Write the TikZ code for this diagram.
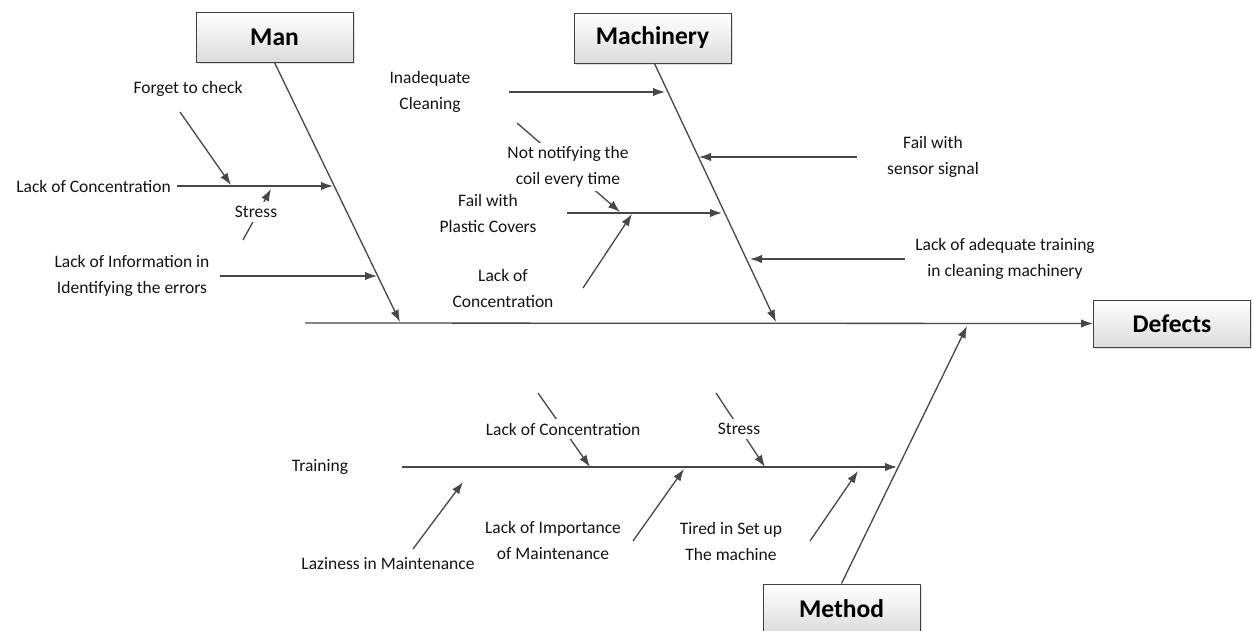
\documentclass[tikz,border=0pt]{standalone}
\usepackage{fontspec}
\setmainfont{Carlito}
\usetikzlibrary{arrows.meta,shadows}
\begin{document}
\begin{tikzpicture}[x=1pt,y=-1pt,
  catbox/.style={draw=black!75, line width=1pt, top color=white, bottom color=black!14,
    minimum width=157pt, minimum height=50pt, inner sep=0pt,
    font=\fontsize{25.5}{30}\selectfont\bfseries,
    drop shadow={shadow xshift=1.5pt, shadow yshift=-1.5pt, opacity=0.25}},
  bone/.style={draw=black!72, line width=1.3pt, -{Latex[length=12pt,width=8.5pt]}},
  cause/.style={fill=white, inner sep=4pt, align=center,
    font=\fontsize{17.5}{26}\selectfont, text=black!92},
]
\useasboundingbox (0,0) rectangle (1254,630);

% category boxes and effect
\node[catbox] (man) at (274.5,37) {Man};
\node[catbox] (mach) at (652.5,38) {Machinery};
\node[catbox, minimum height=47pt] (defects) at (1172,323.5) {Defects};
\node[catbox] (method) at (841.5,609) {Method};

% main spine and category bones
\coordinate (tail) at (305,323);
\coordinate (manhead) at (400,322);
\coordinate (machhead) at (776,322);
\coordinate (methhead) at (967,326);
\draw[bone] (tail) -- (defects.west);
\draw[bone] (man.south) -- (manhead);
\draw[bone] ([xshift=2pt]mach.south) -- (machhead);
\draw[bone] (method.north) -- (methhead);

% --- Man causes ---
\coordinate (forgetA) at (180,112);   \coordinate (forgetB) at (231,185);
\coordinate (concA) at (177,186);     \coordinate (concB) at (333,186);
\coordinate (stressA) at (243,240);   \coordinate (stressB) at (271,189);
\coordinate (infoA) at (220,276);     \coordinate (infoB) at (377,276);
\draw[bone] (forgetA) -- (forgetB);
\draw[bone] (concA) -- (concB);
\draw[bone] (stressA) -- (stressB);
\draw[bone] (infoA) -- (infoB);

% --- Machinery causes ---
\coordinate (cleanA) at (509,92);     \coordinate (cleanB) at (665,92);
\coordinate (sensA) at (857,157);     \coordinate (sensB) at (699,157);
\coordinate (notifA) at (517,123);    \coordinate (notifB) at (620,212);
\coordinate (plasA) at (567,213);     \coordinate (plasB) at (722,213);
\coordinate (mconcA) at (583,288);    \coordinate (mconcB) at (632,214);
\coordinate (trainA) at (905,259);    \coordinate (trainB) at (750,259);
\draw[bone] (cleanA) -- (cleanB);
\draw[bone] (sensA) -- (sensB);
\draw[bone] (notifA) -- (notifB);
\draw[bone] (plasA) -- (plasB);
\draw[bone] (mconcA) -- (mconcB);
\draw[bone] (trainA) -- (trainB);

% --- Method causes ---
\coordinate (trA) at (402,467);       \coordinate (trB) at (897,467);
\coordinate (lcA) at (538,393);       \coordinate (lcB) at (590,467);
\coordinate (stA) at (716,393);       \coordinate (stB) at (765,467);
\coordinate (lzA) at (413,549);       \coordinate (lzB) at (463,482);
\coordinate (imA) at (633,541);       \coordinate (imB) at (684,469);
\coordinate (tiA) at (810,541);       \coordinate (tiB) at (858,471);
\draw[bone] (trA) -- (trB);
\draw[bone] (lcA) -- (lcB);
\draw[bone] (stA) -- (stB);
\draw[bone] (lzA) -- (lzB);
\draw[bone] (imA) -- (imB);
\draw[bone] (tiA) -- (tiB);

% cause labels (white background masks the lines behind them)
\node[cause] (lforget) at (188,89) {Forget to check};
\node[cause, anchor=east] (lconc) at (175,186) {Lack of Concentration};
\node[cause] (lstress) at (256,212) {Stress};
\node[cause] (linfo) at (132,276) {Lack of Information in\\Identifying the errors};

\node[cause] (lclean) at (430,92) {Inadequate\\Cleaning};
\node[cause] (lsens) at (933,157) {Fail with\\sensor signal};
\node[cause] (lnotif) at (568,167) {Not notifying the\\coil every time};
\node[cause] (lplas) at (488,213) {Fail with\\Plastic Covers};
\node[cause] (lmconc) at (503,288) {Lack of\\Concentration};
\node[cause] (ltrain) at (1005,259) {Lack of adequate training\\in cleaning machinery};

\node[cause] (ltr) at (320,467) {Training};
\node[cause] (llc) at (563,429) {Lack of Concentration};
\node[cause] (lst) at (739,429) {Stress};
\node[cause, inner sep=2pt] (llz) at (388,564) {Laziness in Maintenance};
\node[cause] (lim) at (553,540) {Lack of Importance\\of Maintenance};
\node[cause] (lti) at (731,541) {Tired in Set up\\The machine};
\end{tikzpicture}
\end{document}
